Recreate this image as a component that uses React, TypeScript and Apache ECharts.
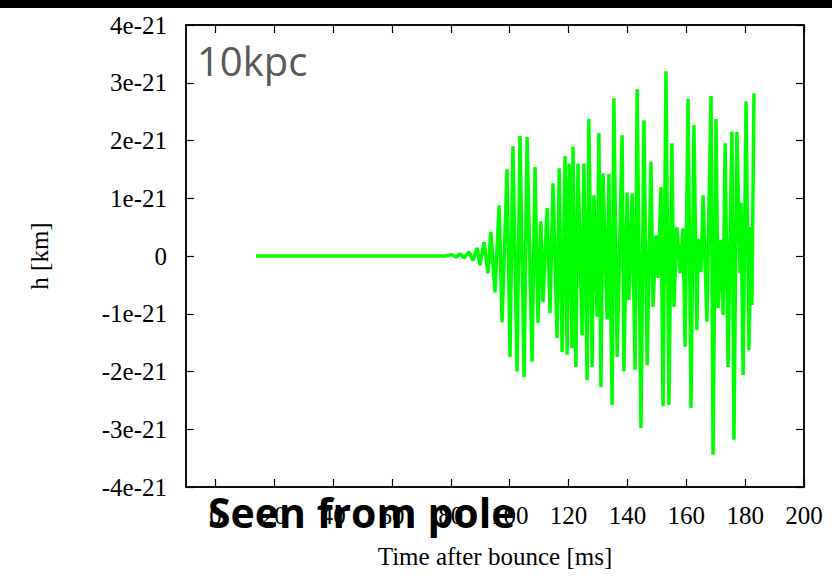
import React, { useEffect, useRef } from "react";
import * as echarts from "echarts";

// time after bounce [ms]
const TIME = [
  13.8, 78.0, 80.4, 81.8, 83.1, 84.5, 86.2, 87.5, 88.9, 89.9, 91.3, 92.6, 93.6, 95.0, 96.4, 97.4,
  99.1, 100.1, 101.1, 102.5, 103.5, 104.9, 105.9, 107.6, 108.6, 109.6, 110.6, 111.3, 112.7, 113.7,
  114.7, 116.1, 116.8, 117.8, 118.8, 119.5, 120.2, 121.2, 121.5, 122.5, 123.2, 124.6, 125.2, 126.3,
  126.9, 128.0, 128.6, 129.7, 130.3, 131.0, 131.7, 133.1, 133.7, 134.8, 135.4, 136.5, 137.5, 138.2,
  138.8, 139.9, 140.5, 141.6, 142.6, 143.3, 144.6, 145.6, 146.7, 148.0, 148.7, 149.7, 150.4, 151.4,
  152.1, 153.1, 154.1, 155.1, 155.8, 156.8, 157.9, 158.9, 159.6, 160.6, 161.6, 162.6, 163.6, 164.0,
  165.0, 165.7, 167.0, 168.4, 169.1, 170.1, 170.8, 171.8, 172.5, 173.2, 174.2, 175.5, 176.2, 177.2,
  178.3, 178.6, 179.3, 180.3, 181.3, 182.0, 182.3, 183.0,
];
// strain h in units of 1e-21
const STRAIN = [
  0, 0, 0.02, -0.02, 0.04, -0.03, 0.07, -0.08, 0.14, -0.16, 0.24, -0.3, 0.42, -0.63, 0.88, -1.15,
  1.5, -1.75, 1.9, -2.0, 2.08, -2.1, 2.06, -1.83, 1.54, -1.16, 0.6, -0.8, 0.83, -0.99,
  1.26, -1.42, 1.52, -1.66, 1.73, -1.71, 1.6, -1.6, 1.89, -1.92, 1.6, -1.37, 1.6, -2.15,
  2.37, -1.92, 1.05, -1.05, 2.13, -2.27, 1.43, -1.1, 1.42, -2.58, 2.73, -1.75, 0.5, 2.09,
  -2.0, 1.1, -0.76, 1.08, -1.97, 2.89, -2.98, 2.35, -1.89, 1.63, -0.88, 0.36, -0.38, 1.19,
  -2.6, 3.2, -2.58, 1.95, -0.88, 0.5, -0.3, 0.48, -1.57, 2.72, -2.63, 2.27, -1.28, 0.3,
  -0.28, 1.05, -1.14, 2.77, -3.44, 2.37, -0.9, 0.28, -1.02, 1.95, -1.92, 2.15, -3.18, 2.15,
  -0.3, 0.92, -2.06, 2.68, -1.63, 0.5, -0.85, 2.82,
];
const X_TICKS = [0, 20, 40, 60, 80, 100, 120, 140, 160, 180, 200];
const Y_TICKS = [-4, -3, -2, -1, 0, 1, 2, 3, 4];
const Y_LABEL = (v: number) => (v === 0 ? "0" : `${v}e-21`);

export default function App() {
  const ref = useRef<HTMLDivElement>(null);
  useEffect(() => {
    if (!ref.current) return;
    const chart = echarts.init(ref.current, undefined, { renderer: "svg" });
    const serif = "Liberation Serif, Times New Roman, serif";
    const tickStyle = { color: "#000", width: 1.2 };
    const lineStyle = { color: "#000", width: 1.5 };
    chart.setOption({
      animation: false,
      backgroundColor: "#fff",
      grid: {
        left: 186,
        top: 25,
        right: 28,
        bottom: 98,
        show: true,
        borderColor: "#000",
        borderWidth: 1.5,
        backgroundColor: "transparent",
      },
      xAxis: [
        {
          type: "value",
          min: -10,
          max: 200,
          name: "Time after bounce [ms]",
          nameLocation: "middle",
          nameGap: 57,
          nameTextStyle: { fontFamily: serif, fontSize: 25, color: "#000" },
          axisLine: { show: true, onZero: false, lineStyle },
          axisTick: { show: true, inside: true, length: 8, lineStyle: tickStyle, customValues: X_TICKS },
          axisLabel: {
            fontFamily: serif,
            fontSize: 25,
            color: "#000",
            margin: 16,
            customValues: X_TICKS,
          },
          splitLine: { show: false },
        },
        {
          type: "value",
          position: "top",
          min: -10,
          max: 200,
          axisLine: { show: true, onZero: false, lineStyle },
          axisTick: { show: true, inside: true, length: 8, lineStyle: tickStyle, customValues: X_TICKS },
          axisLabel: { show: false },
          splitLine: { show: false },
        },
      ],
      yAxis: [
        {
          type: "value",
          min: -4,
          max: 4,
          interval: 1,
          name: "h [km]",
          nameLocation: "middle",
          nameRotate: 90,
          nameGap: 134,
          nameTextStyle: { fontFamily: serif, fontSize: 25, color: "#000" },
          axisLine: { show: true, onZero: false, lineStyle },
          axisTick: { show: true, inside: true, length: 8, lineStyle: tickStyle, customValues: Y_TICKS },
          axisLabel: {
            fontFamily: serif,
            fontSize: 25,
            color: "#000",
            margin: 19,
            formatter: Y_LABEL,
          },
          splitLine: { show: false },
        },
        {
          type: "value",
          position: "right",
          min: -4,
          max: 4,
          interval: 1,
          axisLine: { show: true, onZero: false, lineStyle },
          axisTick: { show: true, inside: true, length: 8, lineStyle: tickStyle },
          axisLabel: { show: false },
          splitLine: { show: false },
        },
      ],
      series: [
        {
          type: "line",
          xAxisIndex: 0,
          yAxisIndex: 0,
          data: TIME.map((t, i) => [t, STRAIN[i]]),
          showSymbol: false,
          lineStyle: { color: "#00ff00", width: 3.5 },
          z: 5,
        },
      ],
      graphic: [
        {
          type: "rect",
          left: 0,
          top: 0,
          shape: { width: 832, height: 8 },
          style: { fill: "#000" },
          z: 100,
        },
        {
          type: "text",
          left: 197,
          top: 40,
          style: {
            text: "10kpc",
            fontFamily: "Open Sans, sans-serif",
            fontSize: 40,
            fill: "#595959",
          },
          z: 100,
        },
        {
          type: "text",
          left: 208,
          top: 491,
          style: {
            text: "Seen from pole",
            fontFamily: "Open Sans, sans-serif",
            fontWeight: "bold",
            fontSize: 41,
            fill: "#000",
          },
          z: 100,
        },
      ],
    });
    return () => chart.dispose();
  }, []);
  return (
    <div
      ref={ref}
      style={{ position: "fixed", left: 0, top: 0, width: 832, height: 585 }}
    />
  );
}
